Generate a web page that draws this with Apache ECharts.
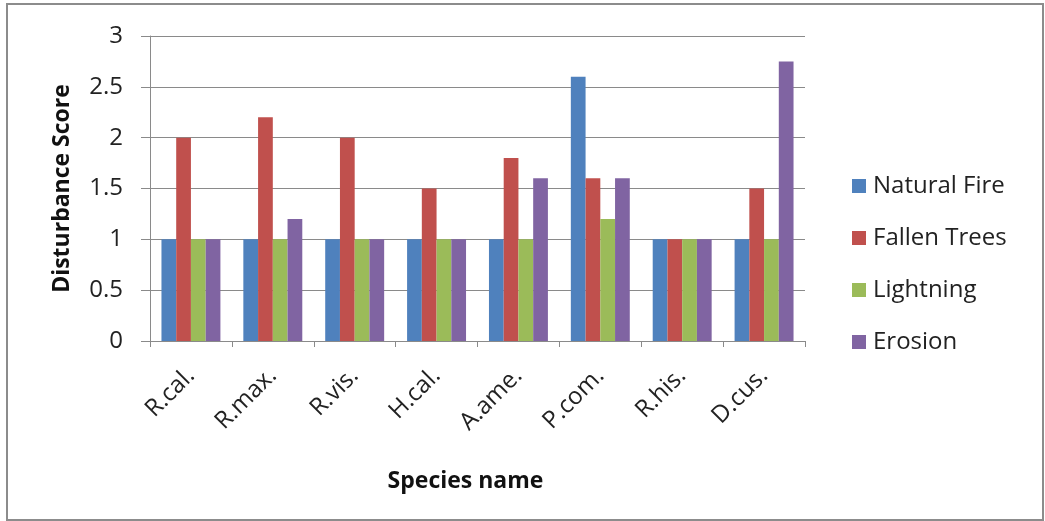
<!DOCTYPE html>
<html>
<head>
<meta charset="utf-8">
<script src="https://cdn.jsdelivr.net/npm/echarts@6/dist/echarts.min.js"></script>
<style>
  html, body { margin: 0; padding: 0; background: #ffffff; }
  #chart { width: 1045px; height: 521px; }
</style>
</head>
<body>
<div id="chart"></div>
<script>
// Species and disturbance scores per disturbance type
const species = ['R.cal.', 'R.max.', 'R.vis.', 'H.cal.', 'A.ame.', 'P.com.', 'R.his.', 'D.cus.'];
const naturalFire  = [1, 1, 1, 1, 1, 2.6, 1, 1];
const fallenTrees  = [2, 2.2, 2, 1.5, 1.8, 1.6, 1, 1.5];
const lightning    = [1, 1, 1, 1, 1, 1.2, 1, 1];
const erosion      = [1, 1.2, 1, 1, 1.6, 1.6, 1, 2.75];
const seriesNames  = ['Natural Fire', 'Fallen Trees', 'Lightning', 'Erosion'];
const yTicks       = [0, 0.5, 1, 1.5, 2, 2.5, 3];

const colors = ['#4F81BD', '#C0504D', '#9BBB59', '#8064A2'];
const FONT = '"Open Sans", Lato, sans-serif';
const axisGray = '#8a8a8a';

const chart = echarts.init(document.getElementById('chart'), null, { renderer: 'canvas' });

const seriesData = [naturalFire, fallenTrees, lightning, erosion];

chart.setOption({
  animation: false,
  color: colors,
  textStyle: { fontFamily: FONT, color: '#222' },
  graphic: [{
    type: 'rect',
    shape: { x: 7, y: 4, width: 1036, height: 516 },
    style: { fill: 'none', stroke: '#8c8c8c', lineWidth: 2 },
    silent: true,
    z: -10
  }],
  grid: { left: 150, right: 240, top: 36, bottom: 180, containLabel: false },
  legend: {
    orient: 'vertical',
    left: 847,
    top: 169,
    itemWidth: 14,
    itemHeight: 14,
    itemGap: 28,
    icon: 'rect',
    data: seriesNames,
    textStyle: { fontFamily: FONT, fontSize: 24, color: '#222', padding: [0, 0, 0, 2] }
  },
  xAxis: {
    type: 'category',
    data: species,
    name: 'Species name',
    nameLocation: 'middle',
    nameGap: 129,
    nameTextStyle: { fontFamily: FONT, fontSize: 23, fontWeight: 'bold', color: '#111', padding: [0, 24, 0, 0] },
    axisLine: { lineStyle: { color: axisGray, width: 1 } },
    axisTick: { show: true, length: 6, lineStyle: { color: axisGray } },
    axisLabel: { rotate: 45, fontSize: 24, color: '#222', margin: 31, fontFamily: FONT }
  },
  yAxis: {
    type: 'value',
    min: 0,
    max: yTicks[yTicks.length - 1],
    interval: 0.5,
    name: 'Disturbance Score',
    nameLocation: 'middle',
    nameGap: 76,
    nameRotate: 90,
    nameTextStyle: { fontFamily: FONT, fontSize: 23, fontWeight: 'bold', color: '#111' },
    axisLine: { show: true, lineStyle: { color: axisGray, width: 1 } },
    axisTick: { show: true, length: 9, lineStyle: { color: axisGray } },
    axisLabel: { fontSize: 24, color: '#222', margin: 27, fontFamily: FONT },
    splitLine: { lineStyle: { color: axisGray, width: 1.2 } }
  },
  series: seriesNames.map((name, i) => ({
    name: name,
    type: 'bar',
    data: seriesData[i],
    barGap: '0%',
    barCategoryGap: '28%',
    itemStyle: { color: colors[i] }
  }))
});
</script>
</body>
</html>
